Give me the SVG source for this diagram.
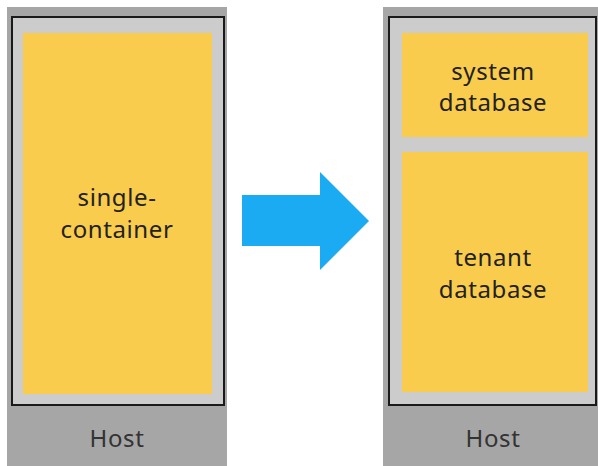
<svg xmlns="http://www.w3.org/2000/svg" width="598" height="466" viewBox="0 0 598 466">
<style>
.host{fill:#a6a6a6}
.frame{fill:#cccccc;stroke:#1a1a1a;stroke-width:2}
.db{fill:#f9cc4d}
text{font-family:"Noto Sans","Open Sans","Liberation Sans",sans-serif;font-size:24px;letter-spacing:0.6px;fill:#222;text-anchor:middle}
.hl{fill:#333}
</style>
<rect width="598" height="466" fill="#ffffff"/>
<g id="left-host">
<rect class="host" x="7" y="7" width="220" height="459"/>
<rect class="frame" x="12" y="17" width="212" height="388"/>
<text class="hl" x="117" y="447">Host</text>
</g>
<g id="single-container">
<rect class="db" x="23" y="33" width="189" height="361"/>
<text x="117" y="206">single-</text>
<text x="117" y="238">container</text>
</g>
<g id="right-host">
<rect class="host" x="383" y="7" width="215" height="459"/>
<rect class="frame" x="389" y="17" width="207" height="388"/>
<text class="hl" x="493" y="447">Host</text>
</g>
<g id="system-database">
<rect class="db" x="402" y="33" width="186" height="104"/>
<text x="493" y="80">system</text>
<text x="493" y="111">database</text>
</g>
<g id="tenant-database">
<rect class="db" x="402" y="152" width="186" height="240"/>
<text x="493" y="266">tenant</text>
<text x="493" y="298">database</text>
</g>
<g id="connectors">
<polygon points="242,195 320,195 320,172 369,221 320,270 320,246 242,246" fill="#1aabf3"/>
</g>
</svg>
